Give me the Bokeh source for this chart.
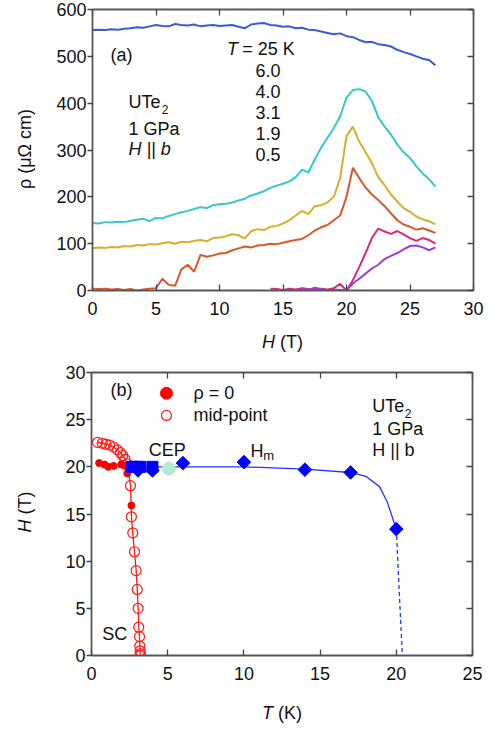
import numpy as np
from bokeh.plotting import figure
from bokeh.layouts import column, row
from bokeh.models import Range1d, FixedTicker, LinearAxis, Label, Div
from bokeh.embed import file_html
from bokeh.resources import INLINE

FONT = "Liberation Sans"
FS = "18px"

# ---------------- panel (a) data: resistivity vs field ----------------
H_grid = [0.0, 0.5, 1.0, 1.5, 2.0, 2.5, 3.0, 3.5, 4.0, 4.5, 5.0, 5.5, 6.0, 6.5,
          7.0, 7.5, 8.0, 8.5, 9.0, 9.5, 10.0, 10.5, 11.0, 11.5, 12.0, 12.5,
          13.0, 13.5, 14.0, 14.5, 15.0, 15.5, 16.0, 16.5, 17.0, 17.5, 18.0,
          18.5, 19.0, 19.5, 20.0, 20.5, 21.0, 21.5, 22.0, 22.5, 23.0, 23.5,
          24.0, 24.5, 25.0, 25.5, 26.0, 26.5, 27.0]

rho_25K = [556, 557, 556, 558, 557, 559, 560, 562, 561, 564, 567, 565, 564, 569,
           567, 566, 568, 564, 566, 567, 565, 566, 567, 563, 560, 568, 570, 571,
           567, 566, 563, 564, 560, 561, 557, 556, 553, 550, 547, 549, 543, 541,
           535, 530, 531, 526, 524, 521, 514, 509, 505, 500, 495, 492, 481]
rho_6K = [144, 143, 146, 145, 147, 146, 149, 151, 153, 148, 155, 154, 159, 163,
          167, 170, 174, 178, 176, 182, 184, 185, 188, 192, 196, 203, 207, 212,
          219, 224, 228, 233, 242, 258, 252, 280, 305, 326, 347, 372, 412, 428,
          430, 425, 405, 370, 350, 333, 312, 295, 283, 265, 250, 238, 222]
rho_4K = [90, 92, 91, 93, 92, 95, 94, 97, 96, 99, 98, 101, 103, 100, 104, 103,
          106, 108, 105, 112, 113, 116, 120, 118, 111, 127, 131, 129, 136, 138,
          143, 150, 160, 170, 163, 180, 182, 188, 200, 240, 330, 350, 318, 295,
          272, 242, 225, 205, 190, 176, 168, 158, 152, 148, 141]
rho_3p1K = [4, 3, 4, 2, 3, 1, 3, 0, 2, 4, 5, 25, 12, 10, 45, 55, 40, 76, 72, 75,
            79, 80, 86, 90, 94, 92, 96, 97, 100, 99, 102, 105, 108, 110, 118,
            128, 135, 140, 150, 160, 200, 262, 240, 220, 205, 193, 180, 165, 150,
            141, 136, 130, 133, 128, 123]
H_1p9K = H_grid[28:]
rho_1p9K = [4, 3, 1, 4, 2, 5, 3, 1, 4, 2, 5, 14, 0, 22, 50, 80, 112, 132, 126,
            121, 127, 120, 112, 106, 112, 108, 100]
H_0p5K = H_grid[31:]
rho_0p5K = [2, 0, 3, 1, 6, 3, 0, 2, 1, 0, 15, 25, 36, 47, 55, 67, 74, 80, 88, 95,
            96, 92, 86, 92]

temps_labels = ["6.0", "4.0", "3.1", "1.9", "0.5"]

# ---------------- panel (b) data: phase diagram ----------------
rho0_T = [0.5, 0.85, 1.1, 1.45, 1.95, 2.2, 2.35, 2.62]
rho0_H = [20.4, 20.25, 20.0, 20.1, 20.25, 20.1, 19.3, 15.9]

mid_T = [0.4, 0.7, 0.95, 1.2, 1.45, 1.7, 1.9, 2.05, 2.2, 2.35, 2.56, 2.62, 2.71,
         2.82, 2.93, 3.0, 3.06, 3.1, 3.15, 3.17, 3.19, 3.2, 3.2]
mid_H = [22.6, 22.5, 22.4, 22.3, 22.1, 21.8, 21.5, 21.2, 20.8, 20.3, 18.0, 14.7,
         13.0, 11.0, 9.0, 7.0, 5.0, 3.0, 2.0, 1.0, 0.5, 0.2, 0.0]

sq_T = [2.65, 2.95, 3.2, 4.0]
sq_H = [20.0, 20.0, 20.0, 20.0]
dlow_T = [3.05, 4.0]
dlow_H = [19.6, 19.6]

Hm_T = [6.0, 10.0, 14.0, 17.0, 20.0]
Hm_H = [20.4, 20.5, 19.7, 19.4, 13.4]

cep_T = [5.07]
cep_H = [19.8]

Hm_line_T = [2.6, 6.0, 10.0, 14.0, 17.0, 18.0, 18.9, 19.4, 20.0]
Hm_line_H = [20.0, 20.0, 20.0, 19.75, 19.4, 19.0, 17.9, 16.3, 13.4]
dash_T = [20.0, 20.2, 20.4]
dash_H = [13.4, 6.5, 0.0]


def style_axis(ax, tin, tout, ticks, labels=True):
    ax.ticker = FixedTicker(ticks=ticks)
    ax.major_tick_in = tin
    ax.major_tick_out = tout
    ax.minor_tick_in = 0
    ax.minor_tick_out = 0
    ax.axis_line_color = "#555555"
    ax.axis_line_width = 1.5
    ax.major_tick_line_color = "#444444"
    ax.major_tick_line_width = 1.3
    if labels:
        ax.major_label_text_font = FONT
        ax.major_label_text_font_size = FS
        ax.major_label_text_color = "#111111"
    else:
        ax.major_label_text_font_size = "1px"
        ax.major_label_text_color = None
        ax.major_label_standoff = 0


def txt(p, x, y, s, size=FS, style="normal", align="left", baseline="middle", angle=0.0):
    p.add_layout(Label(x=x, y=y, text=s, text_font=FONT, text_font_size=size,
                       text_font_style=style, text_align=align,
                       text_baseline=baseline, angle=angle, text_color="#111111"))


def make_fig(w, h, xr, yr, left, right, top, bottom):
    p = figure(width=w, height=h, x_range=Range1d(*xr), y_range=Range1d(*yr),
               output_backend="svg", toolbar_location=None,
               min_border_left=left, min_border_right=right,
               min_border_top=top, min_border_bottom=bottom)
    p.grid.visible = False
    p.outline_line_color = "#333333"
    p.outline_line_width = 1.3
    p.background_fill_color = "white"
    p.border_fill_color = "white"
    return p


def title_div(w, h, html):
    return Div(text=html, width=w, height=h, margin=0)


SPAN = "font-family:'Liberation Sans';font-size:18px;color:#111;white-space:nowrap;line-height:21px;"


def ytitle_div(h, cy, html):
    return title_div(50, h,
        '<div style="position:relative;width:50px;height:' + str(h) + 'px;">'
        '<div style="position:absolute;left:25px;top:' + str(cy) + 'px;'
        'transform:translate(-50%,-50%) rotate(-90deg);' + SPAN + '">'
        + html + '</div></div>')


def xtitle_div(top, html):
    return title_div(496, 40,
        '<div style="position:relative;width:496px;height:40px;">'
        '<div style="position:absolute;left:262px;top:' + str(top) + 'px;' + SPAN + '">'
        + html + '</div></div>')


# ---------------- figure (a) ----------------
p1 = make_fig(446, 318, (0, 30), (0, 600), 42, 23, 9, 28)
xt1 = [0, 5, 10, 15, 20, 25, 30]
yt1 = [0, 100, 200, 300, 400, 500, 600]
style_axis(p1.xaxis[0], 6, 0, xt1)
p1.xaxis[0].major_label_standoff = 11
style_axis(p1.yaxis[0], 0, 5, yt1)
p1.yaxis[0].major_label_standoff = 1
ra = LinearAxis()
style_axis(ra, 6, 0, yt1, labels=False)
p1.add_layout(ra, "right")
ta = LinearAxis()
style_axis(ta, 6, 0, xt1, labels=False)
p1.add_layout(ta, "above")

p1.line(H_grid, rho_25K, line_color="#3a5ad8", line_width=2)
p1.line(H_grid, rho_6K, line_color="#37c8c8", line_width=2)
p1.line(H_grid, rho_4K, line_color="#d6b02c", line_width=2)
p1.line(H_grid, rho_3p1K, line_color="#d9582b", line_width=2)
p1.line(H_1p9K, rho_1p9K, line_color="#d92a7e", line_width=2)
p1.line(H_0p5K, rho_0p5K, line_color="#a43bd6", line_width=2)

txt(p1, 1.42, 503, "(a)")
txt(p1, 10.6, 516, "T", style="italic")
txt(p1, 11.79, 516, "= 25 K")
for lab, yy in zip(temps_labels, [470, 425, 380.5, 334.7, 290]):
    txt(p1, 12.83, yy, lab)
txt(p1, 2.83, 401.7, "UTe")
txt(p1, 5.45, 387.5, "2", size="12px")
txt(p1, 2.83, 345, "1 GPa")
txt(p1, 2.83, 303, "H || b", style="italic")

yt_div1 = ytitle_div(318, 149, "ρ (μΩ cm)")
xt_div1 = xtitle_div(14, "<i>H</i> (T)")

# ---------------- figure (b) ----------------
p2 = make_fig(446, 332, (0, 25), (0, 30), 41, 24, 14, 35)
xt2 = [0, 5, 10, 15, 20, 25]
yt2 = [0, 5, 10, 15, 20, 25, 30]
style_axis(p2.xaxis[0], 6, 0, xt2)
p2.xaxis[0].major_label_standoff = 11
style_axis(p2.yaxis[0], 0, 5, yt2)
p2.yaxis[0].major_label_standoff = 1
ra2 = LinearAxis()
style_axis(ra2, 6, 0, yt2, labels=False)
p2.add_layout(ra2, "right")
ta2 = LinearAxis()
style_axis(ta2, 6, 0, xt2, labels=False)
p2.add_layout(ta2, "above")

p2.line(Hm_line_T, Hm_line_H, line_color="#1f35ff", line_width=1.3)
p2.line(dash_T, dash_H, line_color="#1f35ff", line_width=1.3, line_dash="4 3")
p2.line(mid_T, mid_H, line_color="#ff1a1a", line_width=1.3)
p2.scatter(mid_T, mid_H, marker="circle", size=10, fill_color=None,
           line_color="#ff1a1a", line_width=1.2)
p2.scatter(rho0_T, rho0_H, marker="circle", size=7, fill_color="#ff0000",
           line_color="#ff0000")
p2.scatter(dlow_T, dlow_H, marker="square", size=9.4, angle=np.pi / 4,
           fill_color="#0000ff", line_color="#0000ff")
p2.scatter(sq_T, sq_H, marker="square", size=11, fill_color="#0000ff",
           line_color="#0000ff")
p2.scatter(cep_T, cep_H, marker="circle", size=13, fill_color="#b4e9d6",
           line_color="#b4e9d6")
p2.scatter(Hm_T, Hm_H, marker="square", size=9.6, angle=np.pi / 4,
           fill_color="#0000ff", line_color="#0000ff")

# legend keys
p2.scatter([4.92], [27.8], marker="circle", size=12, fill_color="#ff0000",
           line_color="#ff0000")
p2.scatter([4.92], [25.45], marker="circle", size=10, fill_color=None,
           line_color="#ff1a1a", line_width=1.2)
txt(p2, 6.69, 27.8, "ρ = 0")
txt(p2, 6.69, 25.45, "mid-point")

txt(p2, 1.25, 28.1, "(b)")
txt(p2, 3.76, 21.74, "CEP")
txt(p2, 10.43, 21.67, "H")
txt(p2, 11.27, 21.2, "m", size="13px")
txt(p2, 18.42, 26.4, "UTe")
txt(p2, 20.55, 25.7, "2", size="12px")
txt(p2, 18.42, 24.04, "1 GPa")
txt(p2, 18.42, 21.81, "H || b")
txt(p2, 0.7, 2.3, "SC")

yt_div2 = ytitle_div(332, 154, "<i>H</i> (T)")
xt_div2 = xtitle_div(13, "<i>T</i> (K)")

layout = column(row(yt_div1, p1, spacing=0), xt_div1,
                row(yt_div2, p2, spacing=0), xt_div2, spacing=0)
open("out.html", "w").write(file_html(layout, INLINE))
